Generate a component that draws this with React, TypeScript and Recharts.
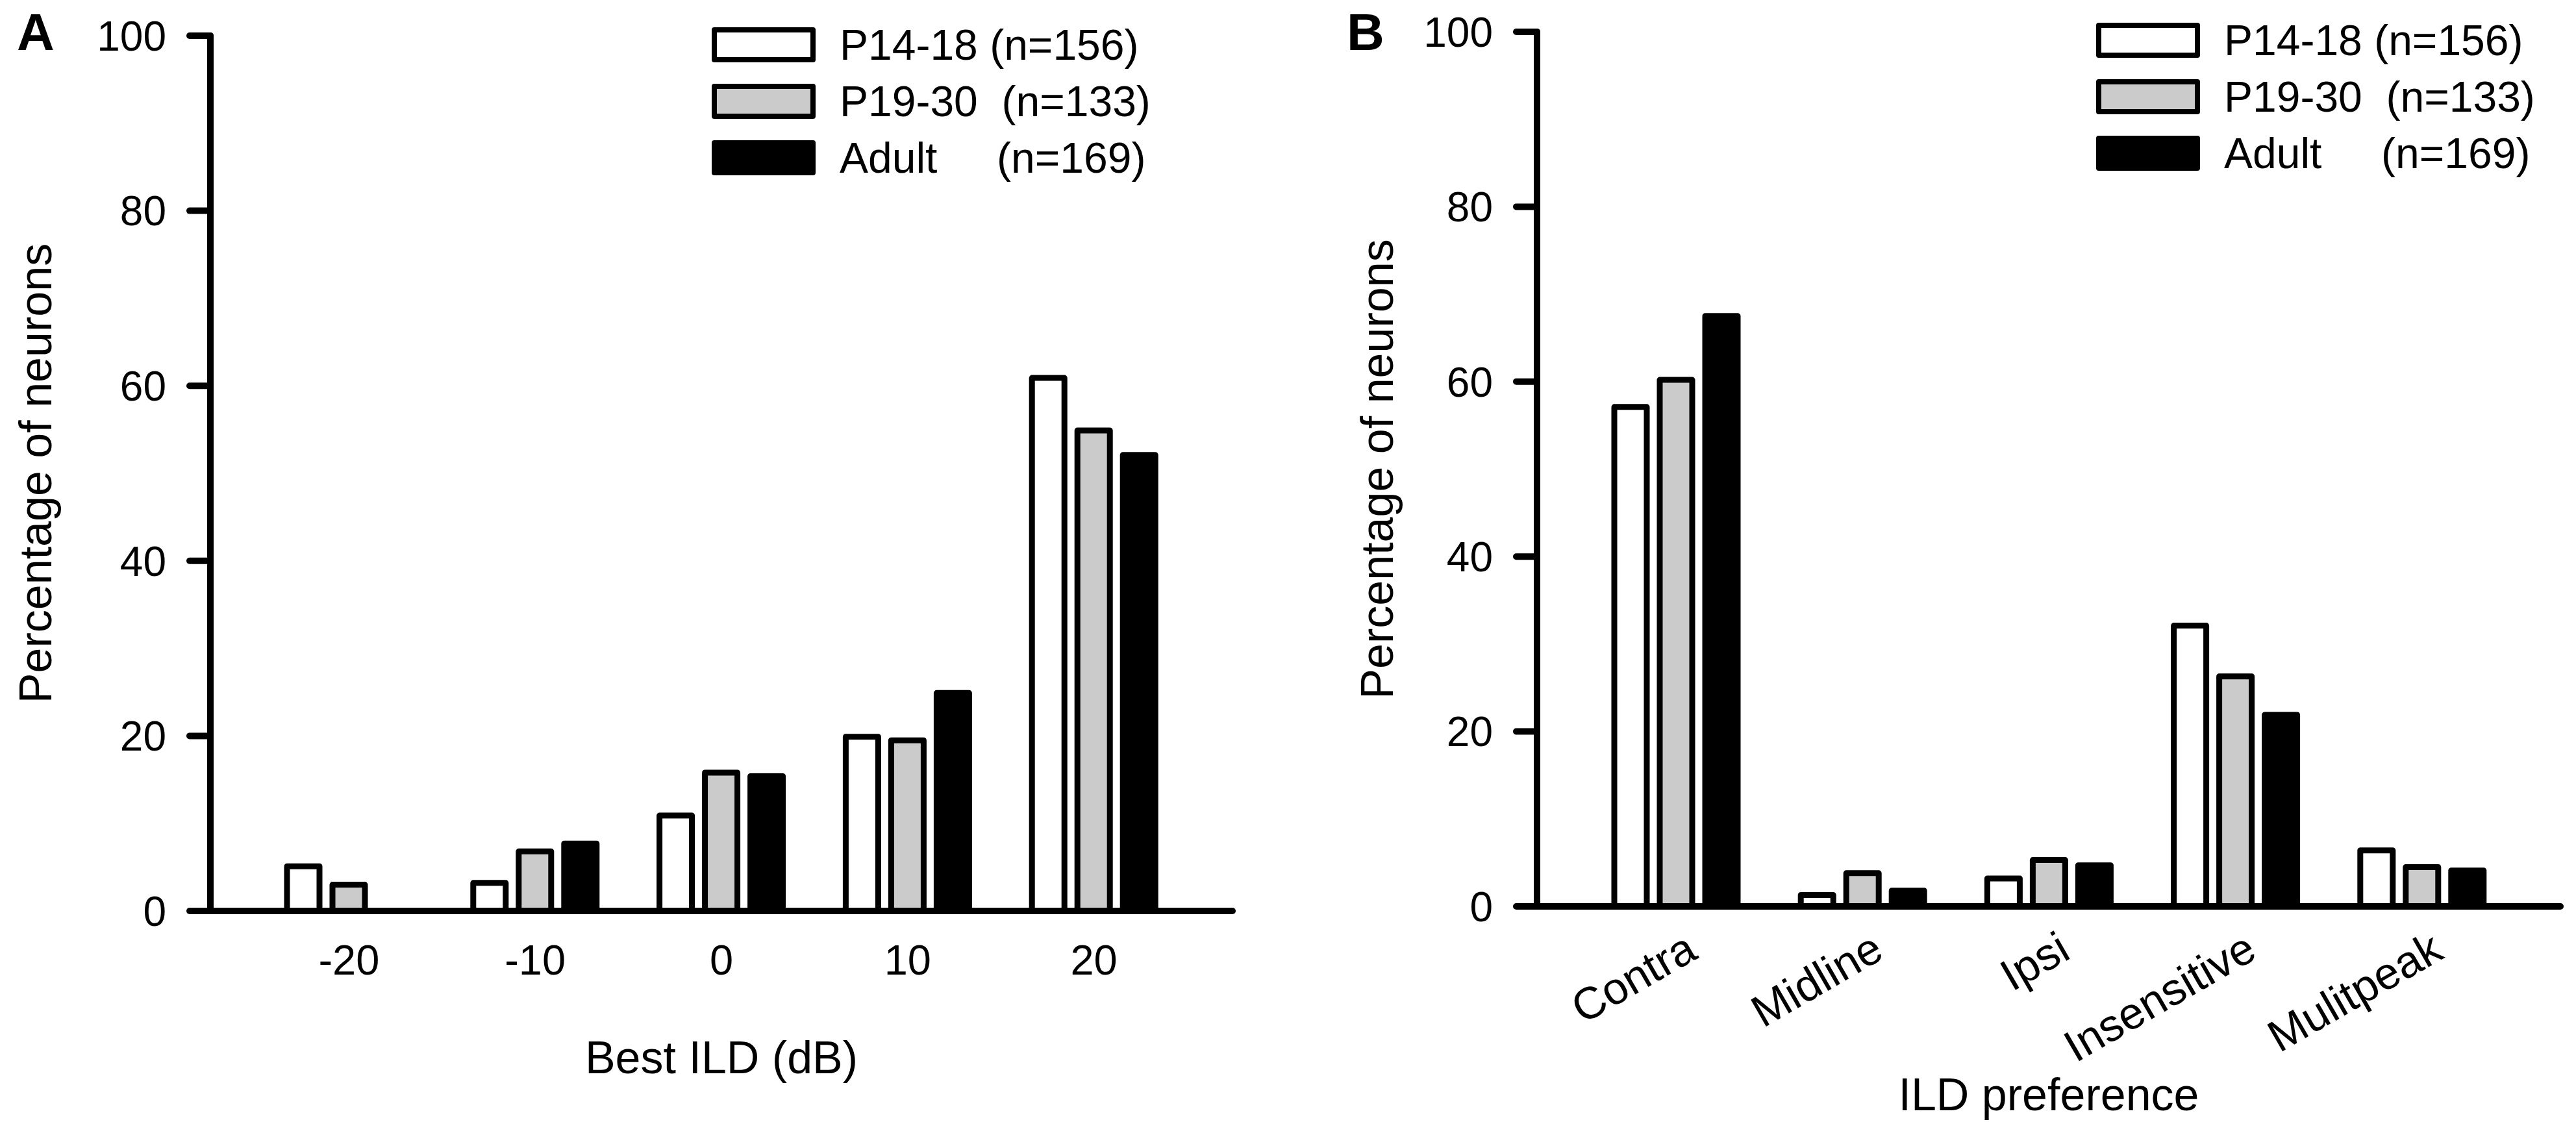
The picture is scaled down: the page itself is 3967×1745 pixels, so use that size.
import { BarChart, Bar, XAxis, YAxis, Label, Legend } from "recharts";

// Panel A: best ILD
const ildCategories = ["-20", "-10", "0", "10", "20"];
const ildP14 = [5.1, 3.2, 10.9, 19.9, 60.9];
const ildP19 = [3.0, 6.8, 15.8, 19.5, 54.9];
const ildAdult = [0, 7.7, 15.4, 24.9, 52.1];

// Panel B: ILD preference
const prefCategories = ["Contra", "Midline", "Ipsi", "Insensitive", "Mulitpeak"];
const prefP14 = [57.1, 1.3, 3.2, 32.1, 6.4];
const prefP19 = [60.2, 3.8, 5.3, 26.3, 4.5];
const prefAdult = [67.5, 1.8, 4.7, 21.9, 4.1];

const yTicks = [0, 20, 40, 60, 80, 100];

const groupKeys = ["p14", "p19", "adult"];
const groupLabels = ["P14-18 (n=156)", "P19-30  (n=133)", "Adult     (n=169)"];
const groupFills = ["#ffffff", "#cbcbcb", "#000000"];

const FONT = '"Liberation Sans", Arial, Helvetica, sans-serif';

const buildRows = (cats: string[], a: number[], b: number[], c: number[]) =>
  cats.map((cat, i) => ({ cat, p14: a[i], p19: b[i], adult: c[i] }));

const ildData = buildRows(ildCategories, ildP14, ildP19, ildAdult);
const prefData = buildRows(prefCategories, prefP14, prefP19, prefAdult);

const axisLine = { stroke: "#000", strokeWidth: 10, strokeLinecap: "round" as const };

const renderLegend = () => (
  <div style={{ fontFamily: FONT }}>
    {groupLabels.map((label, i) => (
      <div
        key={label}
        style={{
          display: "flex",
          alignItems: "center",
          height: 54,
          marginBottom: i < groupLabels.length - 1 ? 33 : 0,
        }}
      >
        <div
          style={{
            width: 160,
            height: 54,
            boxSizing: "border-box",
            border: "8px solid #000",
            borderRadius: 4,
            background: groupFills[i],
          }}
        />
        <span
          style={{
            marginLeft: 37,
            fontSize: 66,
            lineHeight: 1,
            whiteSpace: "pre",
            color: "#000",
          }}
        >
          {label}
        </span>
      </div>
    ))}
  </div>
);

const AngledTick = ({ x, y, payload }: any) => (
  <g transform={`translate(${x + 12},${y})`}>
    <text textAnchor="end" dy="0.71em" transform="rotate(-30)" fontSize={69} fill="#000">
      {payload.value}
    </text>
  </g>
);

interface PanelProps {
  data: any[];
  width: number;
  marginTop: number;
  marginRight: number;
  yAxisWidth: number;
  xAxisHeight: number;
  xLabel: string;
  xLabelOffset: number;
  yLabelOffset: number;
  legendLeft: number;
  legendTop: number;
  angled?: boolean;
}

const Panel = ({
  data,
  width,
  marginTop,
  marginRight,
  yAxisWidth,
  xAxisHeight,
  xLabel,
  xLabelOffset,
  yLabelOffset,
  legendLeft,
  legendTop,
  angled,
}: PanelProps) => (
  <BarChart
    width={width}
    height={1745}
    data={data}
    margin={{ top: marginTop, right: marginRight, bottom: 0, left: 0 }}
    barGap={20}
  >
    <XAxis
      dataKey="cat"
      type="category"
      interval={0}
      padding={{ left: 70, right: 70 }}
      height={xAxisHeight}
      axisLine={axisLine}
      tickLine={false}
      tickSize={0}
      tickMargin={angled ? 36 : 52}
      tick={angled ? <AngledTick /> : { fontSize: 65, fill: "#000" }}
    >
      <Label
        value={xLabel}
        position="insideBottom"
        offset={xLabelOffset}
        fontSize={70}
        fill="#000"
      />
    </XAxis>
    <YAxis
      type="number"
      domain={[0, 100]}
      ticks={yTicks}
      width={yAxisWidth}
      axisLine={axisLine}
      tickLine={{ stroke: "#000", strokeWidth: 10, strokeLinecap: "round" }}
      tickSize={32}
      tickMargin={36}
      tick={{ fontSize: 64, fill: "#000" }}
    >
      <Label
        value="Percentage of neurons"
        angle={-90}
        position="insideLeft"
        offset={yLabelOffset}
        fontSize={70}
        fill="#000"
        style={{ textAnchor: "middle" }}
      />
    </YAxis>
    {groupKeys.map((key, i) => (
      <Bar
        key={key}
        dataKey={key}
        fill={groupFills[i]}
        stroke="#000"
        strokeWidth={9}
        strokeLinejoin="round"
        barSize={50}
        isAnimationActive={false}
      />
    ))}
    <Legend
      content={renderLegend}
      layout="horizontal"
      verticalAlign="middle"
      align="center"
      wrapperStyle={{ left: legendLeft, top: legendTop, width: "auto" }}
    />
  </BarChart>
);

export default function App() {
  return (
    <div
      style={{
        position: "absolute",
        left: 0,
        top: 0,
        width: 3967,
        height: 1745,
        background: "#fff",
        fontFamily: FONT,
        overflow: "hidden",
      }}
    >
      <div style={{ position: "absolute", left: 0, top: 0 }}>
        <Panel
          data={ildData}
          width={1990}
          marginTop={55}
          marginRight={92}
          yAxisWidth={324}
          xAxisHeight={342}
          xLabel="Best ILD (dB)"
          xLabelOffset={92}
          yLabelOffset={54}
          legendLeft={1096}
          legendTop={42}
        />
      </div>
      <div style={{ position: "absolute", left: 2000, top: 0 }}>
        <Panel
          data={prefData}
          width={1967}
          marginTop={49}
          marginRight={24}
          yAxisWidth={367}
          xAxisHeight={349}
          xLabel="ILD preference"
          xLabelOffset={35}
          yLabelOffset={120}
          legendLeft={1228}
          legendTop={35}
          angled
        />
      </div>
      <svg
        width={3967}
        height={1745}
        style={{ position: "absolute", left: 0, top: 0, pointerEvents: "none" }}
      >
        <text x={26} y={77} fontSize={80} fontWeight="bold" fill="#000">
          A
        </text>
        <text x={2074} y={77} fontSize={80} fontWeight="bold" fill="#000">
          B
        </text>
      </svg>
    </div>
  );
}
